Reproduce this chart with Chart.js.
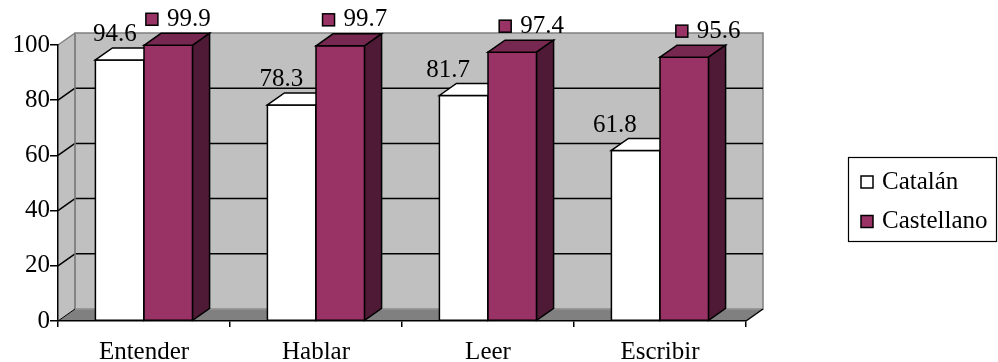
<!DOCTYPE html>
<html>
<head>
<meta charset="utf-8">
<script src="https://cdn.jsdelivr.net/npm/chart.js@4"></script>
<style>
  html, body { margin: 0; padding: 0; background: #fff; }
  canvas { display: block; }
</style>
</head>
<body>
<canvas id="skillsChart" width="998" height="362"></canvas>
<script>
const categories = ['Entender', 'Hablar', 'Leer', 'Escribir'];
const seriesNames = ['Catalán', 'Castellano'];
const catalanValues = [94.6, 78.3, 81.7, 61.8];
const castellanoValues = [99.9, 99.7, 97.4, 95.6];
const yTickValues = [0, 20, 40, 60, 80, 100];

const serifFont = "'Liberation Serif', 'DejaVu Serif', serif";
const fontSize = 25;

// depth of the 3D box (px to the right / up)
const DX = 17;
const DY = -12;

const faceColors = [
  { front: '#ffffff', top: '#ffffff', side: '#d8d8d8' },
  { front: '#993366', top: '#772850', side: '#4e1a36' }
];

function poly(ctx, pts, fill, stroke, lw) {
  ctx.beginPath();
  ctx.moveTo(pts[0][0], pts[0][1]);
  for (let i = 1; i < pts.length; i++) ctx.lineTo(pts[i][0], pts[i][1]);
  ctx.closePath();
  if (fill) { ctx.fillStyle = fill; ctx.fill(); }
  if (stroke) { ctx.strokeStyle = stroke; ctx.lineWidth = lw || 1; ctx.stroke(); }
}

function line(ctx, x1, y1, x2, y2, color, lw) {
  ctx.beginPath();
  ctx.moveTo(x1, y1);
  ctx.lineTo(x2, y2);
  ctx.strokeStyle = color;
  ctx.lineWidth = lw;
  ctx.stroke();
}

function keyBox(ctx, x, cy, fill) {
  ctx.fillStyle = fill;
  ctx.fillRect(x, cy - 6, 12, 12);
  ctx.strokeStyle = '#000';
  ctx.lineWidth = 1.5;
  ctx.strokeRect(x, cy - 6, 12, 12);
}

const box3d = {
  id: 'box3d',
  // walls and floor go under the axes
  beforeDraw(chart) {
    const { ctx, chartArea, scales: { y } } = chart;
    const L = chartArea.left, R = chartArea.right;
    const T = y.getPixelForValue(100), B = y.getPixelForValue(0);
    ctx.save();
    // side wall
    poly(ctx, [[L, T], [L + DX, T + DY], [L + DX, B + DY], [L, B]], '#c0c0c0');
    // back wall
    poly(ctx, [[L + DX, T + DY], [R + DX, T + DY], [R + DX, B + DY], [L + DX, B + DY]], '#c0c0c0', '#808080', 1.5);
    // floor
    poly(ctx, [[L, B], [L + DX, B + DY], [R + DX, B + DY], [R, B]], '#808080');
    line(ctx, L + DX, B + DY, R + DX, B + DY, '#a0a0a0', 1);
    // gridlines
    yTickValues.forEach(v => {
      if (v === 0) return;
      const py = y.getPixelForValue(v);
      const c = v === 100 ? '#808080' : '#000';
      line(ctx, L, py, L + DX, py + DY, c, 1.5);
      if (v !== 100) line(ctx, L + DX, py + DY, R + DX, py + DY, '#000', 1.5);
    });
    line(ctx, L + DX, T + DY, L + DX, B + DY, '#808080', 1.5);
    line(ctx, R, B, R + DX, B + DY, '#000', 1.5);
    line(ctx, L, B, L + DX, B + DY, '#000', 1);
    ctx.restore();
  },
  // bars drawn as boxes, left to right so right faces overlap correctly
  beforeDatasetsDraw(chart) {
    const ctx = chart.ctx;
    ctx.save();
    ctx.lineJoin = 'miter';
    categories.forEach((_, i) => {
      chart.data.datasets.forEach((ds, d) => {
        const el = chart.getDatasetMeta(d).data[i];
        const { x, y, base, width } = el.getProps(['x', 'y', 'base', 'width'], true);
        const l = x - width / 2, r = x + width / 2;
        const col = faceColors[d];
        poly(ctx, [[l, y], [r, y], [r, base], [l, base]], col.front, '#000', 1.5);
        poly(ctx, [[l, y], [l + DX, y + DY], [r + DX, y + DY], [r, y]], col.top, '#000', 1.5);
        poly(ctx, [[r, y], [r + DX, y + DY], [r + DX, base + DY], [r, base]], col.side, '#000', 1.5);
      });
    });
    ctx.restore();
    return false;
  },
  afterDraw(chart) {
    const ctx = chart.ctx;
    const L = chart.chartArea.left;
    ctx.save();
    ctx.font = fontSize + 'px ' + serifFont;
    ctx.textBaseline = 'middle';

    // value labels: Catalán drift left, Castellano drift right across the plot
    categories.forEach((_, i) => {
      const w = chart.getDatasetMeta(0).data[i];
      ctx.textAlign = 'center';
      ctx.fillStyle = '#000';
      ctx.fillText(String(catalanValues[i]), w.x - 3 - 0.031 * (w.x - L), w.y - 25);

      const m = chart.getDatasetMeta(1).data[i];
      const txt = String(castellanoValues[i]);
      const tw = ctx.measureText(txt).width;
      const total = 12 + 9 + tw;
      const sx = m.x + 7 + 0.027 * (m.x - L) - total / 2;
      const cy = m.y - 26;
      keyBox(ctx, sx, cy, faceColors[1].front);
      ctx.fillStyle = '#000';
      ctx.textAlign = 'left';
      ctx.fillText(txt, sx + 21, cy);
    });

    // legend box
    ctx.strokeStyle = '#000';
    ctx.lineWidth = 1.2;
    ctx.strokeRect(848.5, 157.5, 148, 84);
    seriesNames.forEach((name, d) => {
      const cy = 182 + d * 39.5;
      keyBox(ctx, 861, cy, faceColors[d].front);
      ctx.fillStyle = '#000';
      ctx.textAlign = 'left';
      ctx.fillText(name, 882, cy);
    });
    ctx.restore();
  }
};

const tickFont = { family: serifFont, size: fontSize };

function buildChart() {
  new Chart(document.getElementById('skillsChart'), {
    type: 'bar',
    data: {
      labels: categories,
      datasets: [
        { label: seriesNames[0], data: catalanValues, backgroundColor: faceColors[0].front },
        { label: seriesNames[1], data: castellanoValues, backgroundColor: faceColors[1].front }
      ]
    },
    options: {
      responsive: false,
      animation: false,
      devicePixelRatio: 1,
      datasets: { bar: { barPercentage: 1, categoryPercentage: 0.565, borderWidth: 1.5, borderColor: '#000' } },
      layout: { padding: { left: 0, right: 252, top: 45, bottom: 0 } },
      scales: {
        x: {
          grid: { display: true, drawOnChartArea: false, offset: true, color: '#000', lineWidth: 1.5, tickLength: 6 },
          border: { display: true, color: '#000', width: 1.5 },
          ticks: { font: tickFont, color: '#000', padding: 10, maxRotation: 0 },
          afterFit(scale) { scale.height = 41; }
        },
        y: {
          min: 0,
          max: 100,
          afterBuildTicks(scale) { scale.ticks = yTickValues.map(v => ({ value: v })); },
          grid: { display: true, drawOnChartArea: false, color: '#000', lineWidth: 1.5, tickLength: 8 },
          border: { display: true, color: '#000', width: 1.5 },
          ticks: { font: tickFont, color: '#000', padding: 0 },
          afterFit(scale) { scale.width = 58; }
        }
      },
      plugins: {
        legend: { display: false },
        tooltip: { enabled: false }
      }
    },
    plugins: [box3d]
  });
}

// make sure the serif face is ready before the canvas text is drawn
document.fonts.load(fontSize + "px 'Liberation Serif'").then(buildChart, buildChart);
</script>
</body>
</html>
